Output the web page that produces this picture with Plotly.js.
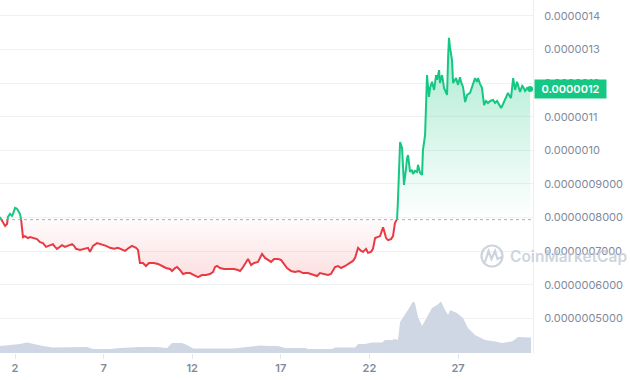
<!DOCTYPE html>
<html><head><meta charset="utf-8">
<script src="https://cdn.plot.ly/plotly-3.0.1.min.js"></script>
<style>html,body{margin:0;padding:0;background:#fff}#chart{width:630px;height:380px}</style>
</head><body><div id="chart"></div>
<script>
// price readings: day of month (fractional) and price in units of 1e-7 USD
const priceDay = [1.15,1.32,1.44,1.55,1.60,1.72,1.83,1.89,2.00,2.11,
2.17,2.28,2.34,2.45,2.56,2.73,2.85,3.02,3.24,3.41,
3.58,3.75,3.92,4.14,4.26,4.37,4.54,4.65,4.82,4.99,
5.22,5.33,5.44,5.67,5.89,6.12,6.23,6.40,6.63,6.85,
7.14,7.36,7.59,7.81,8.04,8.21,8.43,8.60,8.83,8.94,
9.05,9.22,9.39,9.56,9.84,10.07,10.30,10.52,10.75,10.86,
11.03,11.14,11.31,11.48,11.65,11.88,12.10,12.33,12.55,12.78,
13.00,13.17,13.29,13.40,13.57,13.79,14.08,14.36,14.58,14.70,
14.87,15.04,15.15,15.32,15.49,15.71,15.83,15.94,16.11,16.28,
16.45,16.62,16.84,17.01,17.18,17.35,17.58,17.80,18.03,18.25,
18.53,18.82,19.04,19.21,19.44,19.66,19.83,20.06,20.23,20.40,
20.63,20.91,21.07,21.19,21.36,21.53,21.64,21.81,21.92,22.09,
22.20,22.32,22.43,22.60,22.77,22.94,23.05,23.22,23.33,23.44,
23.56,23.61,23.67,23.73,23.84,23.90,23.95,24.07,24.12,24.18,
24.24,24.29,24.40,24.46,24.57,24.69,24.74,24.86,24.97,25.02,
25.14,25.19,25.25,25.31,25.36,25.42,25.53,25.65,25.76,25.82,
25.93,25.98,26.10,26.21,26.32,26.38,26.44,26.49,26.55,26.61,
26.66,26.72,26.83,26.89,27.00,27.11,27.17,27.28,27.40,27.51,
27.68,27.85,27.96,28.07,28.13,28.24,28.35,28.47,28.58,28.69,
28.81,28.98,29.09,29.20,29.31,29.43,29.54,29.65,29.82,29.94,
29.99,30.11,30.22,30.33,30.45,30.50,30.62,30.67,30.78,30.90,
31.07];
const priceE7 = [8.02,7.84,7.75,7.81,8.02,8.11,8.05,8.11,8.29,8.26,
8.20,8.11,7.96,7.42,7.45,7.39,7.42,7.39,7.36,7.27,
7.24,7.13,7.16,7.21,7.13,7.07,7.13,7.18,7.13,7.16,
7.21,7.16,7.07,7.04,7.07,7.10,6.98,7.16,7.24,7.21,
7.16,7.10,7.07,7.10,7.04,7.01,7.10,7.16,7.10,7.04,
6.65,6.65,6.56,6.65,6.65,6.62,6.56,6.50,6.47,6.41,
6.50,6.53,6.44,6.32,6.35,6.35,6.29,6.23,6.29,6.29,
6.32,6.38,6.53,6.56,6.50,6.47,6.47,6.47,6.44,6.41,
6.53,6.68,6.77,6.59,6.65,6.68,6.80,6.92,6.80,6.74,
6.68,6.77,6.77,6.74,6.62,6.50,6.41,6.38,6.41,6.35,
6.35,6.29,6.26,6.35,6.32,6.29,6.32,6.53,6.56,6.50,
6.56,6.65,6.71,6.80,7.10,7.01,6.98,7.07,6.95,6.98,
7.07,7.39,7.42,7.45,7.71,7.39,7.33,7.36,7.45,7.84,
7.96,8.52,9.71,10.25,10.07,9.57,8.97,9.48,9.77,9.86,
9.65,9.36,9.42,9.30,9.39,9.36,9.57,9.33,9.27,10.01,
10.46,11.50,12.24,11.86,11.59,11.86,12.04,11.80,12.24,12.10,
12.39,12.01,12.24,11.86,11.74,11.65,12.78,13.35,13.05,12.90,
12.69,12.01,12.10,12.15,11.95,12.18,12.04,11.89,11.44,11.65,
11.71,12.01,12.15,12.04,12.15,11.98,11.86,11.35,11.47,11.41,
11.47,11.50,11.41,11.47,11.38,11.26,11.38,11.50,11.71,11.59,
11.56,12.15,11.80,12.04,11.80,11.74,11.92,11.89,11.77,11.86,
11.83];
const openE7 = 7.94; // reference (opening) price, dotted line

// volume readings (arbitrary units)
const volDay = [1.15,1.72,2.28,2.68,3.02,3.58,4.14,4.93,5.27,6.06,
6.40,7.36,7.93,9.05,10.01,10.58,10.86,11.42,11.71,12.05,
13.17,14.30,15.09,15.83,16.39,16.84,17.24,18.37,18.53,19.89,
20.06,21.19,21.36,21.75,22.15,22.71,22.88,23.28,23.44,23.61,
23.73,24.01,24.24,24.46,24.57,24.74,24.97,25.25,25.53,25.82,
26.04,26.27,26.44,26.55,26.94,27.28,27.56,27.96,28.52,29.09,
29.48,30.05,30.39,30.95,31.12];
const volM = [10.5,12,13.5,15.8,13.5,10.5,8.3,8.3,9,9,
6,6,7.5,9,9,7.5,15,15,12,6.8,
6.8,6.8,9,11.3,10.5,10.5,7.5,7.5,6,6,
8.3,8.3,13.5,13.5,15.8,15.8,19.5,19.5,21,19.5,
46.5,57,67.5,77.3,75,54,40.5,54,67.5,72,
77.3,64.5,57,64.5,60,52.5,37.5,27,19.5,17.3,
15,17.3,24,23.3,23.3];

const xTickVals = [2,7,12,17,22,27];
const xTickText = ['2','7','12','17','22','27'];
const yTickValsE7 = [5,6,7,8,9,10,11,12,13,14];
const yTickText = ['0.0000005000','0.0000006000','0.0000007000','0.0000008000','0.0000009000',
  '0.0000010','0.0000011','0.0000012','0.0000013','0.0000014'];

const UNIT = 1e-7;
const GREEN = '#16c784', RED = '#ea3943';
const s = v => v * UNIT;

// split line at crossings of the opening price
const X = [], Y = [];
for (let i = 0; i < priceDay.length; i++) {
  const v = priceE7[i];
  if (i > 0) {
    const p = priceE7[i-1];
    if ((p - openE7) * (v - openE7) < 0) {
      const t = (openE7 - p) / (v - p);
      X.push(priceDay[i-1] + t * (priceDay[i] - priceDay[i-1]));
      Y.push(openE7);
    }
  }
  X.push(priceDay[i]); Y.push(v);
}
const baseArr = X.map(() => s(openE7));
const upFillY = Y.map(v => s(Math.max(v, openE7)));
const dnFillY = Y.map(v => s(Math.min(v, openE7)));
const upLineY = Y.map(v => v >= openE7 ? s(v) : null);
const dnLineY = Y.map(v => v <= openE7 ? s(v) : null);

const xRange = [1.153, 31.23];
const yRange = [s(3.97), s(14.476)];
const maxP = Math.max(...priceE7), minP = Math.min(...priceE7);
const lastDay = priceDay[priceDay.length-1], lastP = priceE7[priceE7.length-1];

const traces = [
  {x: volDay, y: volM, yaxis: 'y2', type: 'scatter', mode: 'lines', line: {width: 0, color: '#cfd6e4'},
   fill: 'tozeroy', fillcolor: '#cfd6e4', hoverinfo: 'skip'},
  {x: X, y: baseArr, mode: 'lines', line: {width: 0}, hoverinfo: 'skip'},
  {x: X, y: upFillY, mode: 'lines', line: {width: 0}, fill: 'tonexty', fillcolor: 'rgba(22,199,132,0.15)',
   fillgradient: {type: 'vertical', start: s(openE7), stop: s(maxP - 1),
     colorscale: [[0, 'rgba(22,199,132,0)'], [1, 'rgba(22,199,132,0.30)']]}, hoverinfo: 'skip'},
  {x: X, y: baseArr, mode: 'lines', line: {width: 0}, hoverinfo: 'skip'},
  {x: X, y: dnFillY, mode: 'lines', line: {width: 0}, fill: 'tonexty', fillcolor: 'rgba(234,57,67,0.08)',
   fillgradient: {type: 'vertical', start: s(minP), stop: s(openE7),
     colorscale: [[0, 'rgba(234,57,67,0.16)'], [1, 'rgba(234,57,67,0.02)']]}, hoverinfo: 'skip'},
  {x: xRange, y: [s(openE7), s(openE7)], mode: 'lines', line: {color: '#a6b0c3', width: 1, dash: 'dot'}, hoverinfo: 'skip'},
  {x: X, y: dnLineY, mode: 'lines', line: {color: RED, width: 2}, connectgaps: false},
  {x: X, y: upLineY, mode: 'lines', line: {color: GREEN, width: 2}, connectgaps: false},
  {x: [lastDay], y: [s(lastP)], mode: 'markers', marker: {color: GREEN, size: 6}}
];

// watermark geometry helpers (pixel -> paper)
const PW = 533, PH = 353;
const px = v => v / PW, py = v => 1 - v / PH;
const wmColor = 'rgba(190,197,210,0.75)';
const iconPath = 'M ' + px(485) + ' ' + py(262) + ' L ' + px(488.5) + ' ' + py(251) + ' L ' + px(491.5) + ' ' + py(259) +
  ' L ' + px(495) + ' ' + py(251) + ' L ' + px(497.5) + ' ' + py(259) + ' L ' + px(502) + ' ' + py(257);

const layout = {
  width: 630, height: 380,
  margin: {l: 0, r: 97, t: 0, b: 27, pad: 0},
  paper_bgcolor: '#ffffff', plot_bgcolor: '#ffffff',
  showlegend: false, hovermode: false,
  font: {family: 'Inter, "Noto Sans", sans-serif', size: 11, color: '#808a9d'},
  xaxis: {range: xRange, tickmode: 'array', tickvals: xTickVals, ticktext: xTickText,
    showgrid: false, zeroline: false, showline: false, ticks: 'outside', ticklen: 5,
    tickcolor: '#e3e6eb', tickfont: {size: 11, weight: 600, color: '#808a9d'}, fixedrange: true},
  yaxis: {side: 'right', range: yRange, tickmode: 'array', tickvals: yTickValsE7.map(s), ticktext: yTickText,
    showgrid: true, gridcolor: '#eff2f5', gridwidth: 1, zeroline: false, showline: true, linecolor: '#eceff3',
    ticks: '', ticklabelstandoff: 8, tickfont: {size: 11, color: '#808a9d'}, fixedrange: true},
  yaxis2: {overlaying: 'y', range: [0, 529.5], visible: false, fixedrange: true},
  shapes: [
    {type: 'circle', xref: 'paper', yref: 'paper', x0: px(481.5), x1: px(502.5), y0: py(266.5), y1: py(245.5),
     line: {color: wmColor, width: 2.2}},
    {type: 'path', xref: 'paper', yref: 'paper', path: iconPath, line: {color: wmColor, width: 2.2}}
  ],
  annotations: [
    {xref: 'paper', yref: 'paper', x: px(508), y: py(256), xanchor: 'left', yanchor: 'middle',
     text: 'CoinMarketCap', showarrow: false, font: {size: 15.5, weight: 600, color: wmColor}},
    {xref: 'paper', x: 1, xshift: 1, xanchor: 'left', yref: 'y', y: s(lastP), yanchor: 'middle',
     text: (s(lastP)).toFixed(7), showarrow: false, bgcolor: GREEN, width: 71, height: 18, borderpad: 0,
     font: {size: 11, weight: 600, color: '#ffffff'}}
  ]
};

Plotly.newPlot('chart', traces, layout, {staticPlot: true, displayModeBar: false});
</script>
</body></html>
